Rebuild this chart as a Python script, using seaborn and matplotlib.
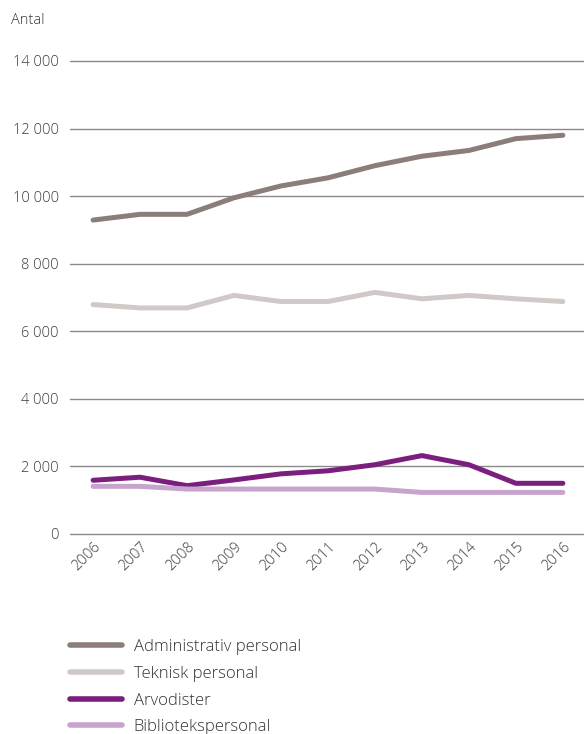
import pandas as pd
import numpy as np
import matplotlib.pyplot as plt
import seaborn as sns

# values
years = [2006, 2007, 2008, 2009, 2010, 2011, 2012, 2013, 2014, 2015, 2016]
admin = [9290, 9460, 9460, 9950, 10300, 10540, 10900, 11180, 11350, 11700, 11800]
teknisk = [6790, 6690, 6690, 7060, 6880, 6880, 7150, 6960, 7060, 6960, 6880]
arvodister = [1590, 1680, 1430, 1600, 1780, 1870, 2050, 2320, 2050, 1500, 1500]
bibliotek = [1410, 1410, 1330, 1330, 1330, 1330, 1330, 1230, 1230, 1230, 1230]

series_names = ["Administrativ personal", "Teknisk personal", "Arvodister", "Bibliotekspersonal"]
colors = ["#8b7d78", "#d1c9c7", "#7b1f7f", "#c7a4cc"]

df = pd.DataFrame({"År": years,
                   series_names[0]: admin,
                   series_names[1]: teknisk,
                   series_names[2]: arvodister,
                   series_names[3]: bibliotek})
long_df = df.melt(id_vars="År", var_name="Grupp", value_name="Antal")

sns.set_style("white")
plt.rcParams["font.family"] = ["Open Sans", "DejaVu Sans"]
plt.rcParams["font.weight"] = "light"

fig = plt.figure(figsize=(5.84, 7.34), dpi=100)
ax = fig.add_axes([0.12, 0.2725, 0.88, 0.6445])

sns.lineplot(data=long_df, x="År", y="Antal", hue="Grupp", hue_order=series_names,
             palette=dict(zip(series_names, colors)), linewidth=3.6, ax=ax,
             legend=False, solid_capstyle="round")

ax.set_xlim(2005.51, 2016.45)
ax.set_ylim(0, 14000)
yticks = np.arange(0, 14001, 2000)
ax.set_yticks(yticks)
ax.set_yticklabels(["0" if v == 0 else f"{v // 1000} {v % 1000:03d}" for v in yticks])
ax.set_xticks(years)
ax.set_xticklabels([str(y) for y in years], rotation=45, ha="right", rotation_mode="anchor",
                   fontsize=11.5)
for line_y in yticks:
    ax.axhline(line_y, color="#8a8a8a", linewidth=1, zorder=0, clip_on=False)
ax.tick_params(axis="both", length=0, labelsize=10.5, colors="#3a3a3a", labelcolor="#3a3a3a")
ax.tick_params(axis="y", pad=8)
ax.tick_params(axis="x", pad=4)
for side in ["top", "right", "left", "bottom"]:
    ax.spines[side].set_visible(False)
ax.set_xlabel("")
ax.set_ylabel("")

fig.text(0.018, 0.972, "Antal", fontsize=10.5, color="#3a3a3a", va="center")

handles = [plt.Line2D([0], [0], color=c, linewidth=4, solid_capstyle="round") for c in colors]
fig.legend(handles, series_names, loc="upper left", bbox_to_anchor=(0.12, 0.129),
           frameon=False, fontsize=12, handlelength=3.1, handletextpad=0.72,
           labelspacing=0.64, borderpad=0, borderaxespad=0, labelcolor="#333333")

fig.savefig("out.png", dpi=100)
